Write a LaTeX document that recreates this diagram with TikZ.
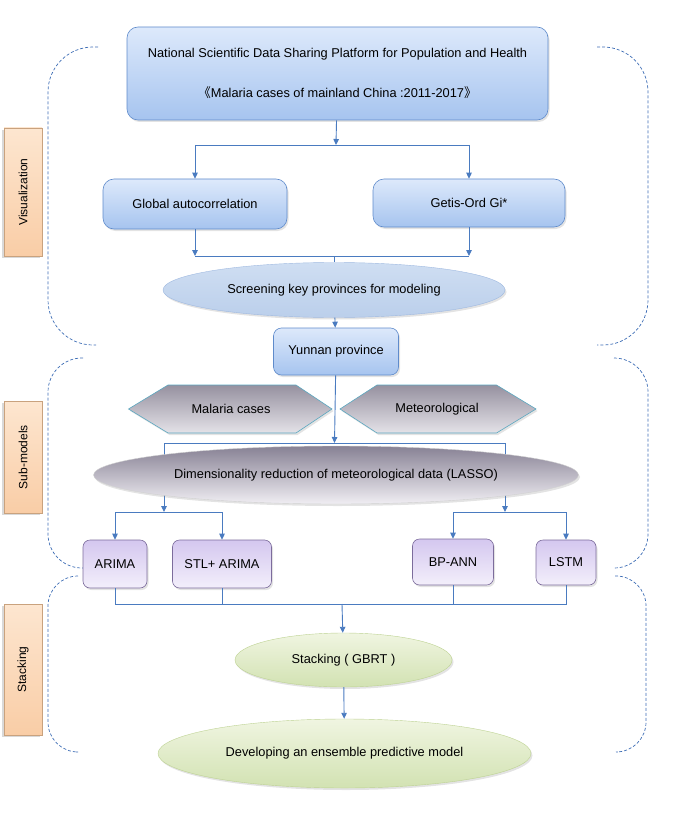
\documentclass[tikz,border=0pt]{standalone}
\usepackage{fontspec}
\setmainfont{Liberation Sans}
\newfontfamily\cjkfont{Noto Sans CJK SC}
\usetikzlibrary{shapes.geometric}
\usetikzlibrary{shadows}
\usetikzlibrary{arrows.meta}
\definecolor{linkblue}{HTML}{4A7BC0}
\definecolor{bracketblue}{HTML}{3D6DB5}
\definecolor{boxline}{HTML}{5F8BCB}
\definecolor{boxtop}{HTML}{DDE9FB}
\definecolor{boxbottom}{HTML}{A6C4EF}
\definecolor{screentop}{HTML}{CFDEF2}
\definecolor{screenbottom}{HTML}{BBCFEB}
\definecolor{hexline}{HTML}{5AA7C0}
\definecolor{hextop}{RGB}{150,145,160}
\definecolor{hexbottom}{RGB}{228,226,232}
\definecolor{lassotop}{RGB}{135,129,148}
\definecolor{lassobottom}{RGB}{240,238,243}
\definecolor{modelline}{HTML}{7C6C9C}
\definecolor{modeltop}{RGB}{212,199,239}
\definecolor{modelbottom}{RGB}{243,239,251}
\definecolor{greenline}{HTML}{BDD292}
\definecolor{greentop}{RGB}{240,245,225}
\definecolor{greenbottom}{RGB}{210,226,178}
\definecolor{peachline}{HTML}{C9A27E}
\definecolor{peachtop}{RGB}{253,230,208}
\definecolor{peachbottom}{RGB}{249,205,166}
\tikzstyle{flow}=[draw=linkblue, line width=0.9pt]
\tikzstyle{flow arrow}=[flow, -{Triangle[width=5.5pt, length=6pt]}]
\tikzstyle{stage bracket}=[draw=bracketblue, line width=0.7pt, dash pattern=on 3pt off 2pt]
\tikzstyle{text node}=[inner sep=0pt, align=center, font=\fontsize{12.8}{15}\selectfont]
\tikzstyle{soft shadow}=[drop shadow={opacity=0.22, shadow xshift=1.5pt, shadow yshift=-2pt}]
\tikzstyle{blue box}=[text node, draw=boxline, semithick, rounded corners=11pt, top color=boxtop, bottom color=boxbottom, soft shadow]
\tikzstyle{blue ellipse}=[text node, ellipse, draw=boxline!60, thin, top color=screentop, bottom color=screenbottom, soft shadow]
\tikzstyle{data hexagon}=[draw=hexline, semithick, top color=hextop, bottom color=hexbottom, soft shadow]
\tikzstyle{grey ellipse}=[text node, ellipse, draw=black!18, thin, top color=lassotop, bottom color=lassobottom, soft shadow]
\tikzstyle{model box}=[text node, draw=modelline, semithick, rounded corners=7pt, top color=modeltop, bottom color=modelbottom, soft shadow]
\tikzstyle{green ellipse}=[text node, ellipse, draw=greenline, thin, top color=greentop, bottom color=greenbottom, soft shadow]
\tikzstyle{stage label}=[text node, rotate=90, draw=peachline, top color=peachtop, bottom color=peachbottom, minimum height=38pt, font=\fontsize{12}{14}\selectfont, drop shadow={opacity=0.3, shadow xshift=-2pt, shadow yshift=-2pt}]

\begin{document}
\begin{tikzpicture}[x=1pt, y=-1pt]
  \useasboundingbox (0, 0) rectangle (683, 821);
  % dashed stage brackets
  \draw[stage bracket, rounded corners=45pt] (98, 47) -- (48, 47) -- (48, 345) -- (96, 345);
  \draw[stage bracket, rounded corners=45pt] (597, 47) -- (648, 47) -- (648, 345) -- (597, 345);
  \draw[stage bracket, rounded corners=34pt] (83, 358) -- (48, 358) -- (48, 568) -- (83, 568);
  \draw[stage bracket, rounded corners=34pt] (614, 358) -- (648, 358) -- (648, 568) -- (614, 568);
  \draw[stage bracket, rounded corners=30pt] (78, 576) -- (48, 576) -- (48, 752) -- (76, 752);
  \draw[stage bracket, rounded corners=30pt] (615, 576) -- (646, 576) -- (646, 752) -- (618, 752);

  \node[stage label, minimum width=128pt] (vis_label) at (23, 192) {Visualization};
  \node[stage label, minimum width=112pt] (sub_label) at (23, 457) {Sub-models};
  \node[stage label, minimum width=131pt] (stack_label) at (23, 669.5) {Stacking};

  % visualization
  \node[blue box, minimum width=421pt, minimum height=93pt] (source) at (337.5, 73.5)
    {National Scientific Data Sharing Platform for Population and Health\\[25pt]
     {\cjkfont 《}Malaria cases of mainland China :2011-2017{\cjkfont 》}};
  \node[blue box, minimum width=184pt, minimum height=50pt] (global) at (195, 204) {Global autocorrelation};
  \node[blue box, minimum width=192pt, minimum height=48pt] (getis) at (469, 203) {Getis-Ord Gi*};
  \node[blue ellipse, minimum width=342pt, minimum height=55pt] (screen) at (334, 290) {Screening key provinces for modeling};
  \coordinate (split_vis) at (336, 145);
  \coordinate (merge_vis) at (334, 256);
  \draw[flow arrow] (source) -- (split_vis);
  \draw[flow] (global |- split_vis) -- (getis |- split_vis);
  \draw[flow arrow] (global |- split_vis) -- (global);
  \draw[flow arrow] (getis |- split_vis) -- (getis);
  \draw[flow arrow] (global) -- (global |- merge_vis);
  \draw[flow arrow] (getis) -- (getis |- merge_vis);
  \draw[flow] (global |- merge_vis) -- (getis |- merge_vis);
  \draw[flow] (merge_vis) -- (screen);

  \node[blue box, rounded corners=8pt, minimum width=125pt, minimum height=47pt] (yunnan) at (336, 351.5) {Yunnan province};
  \draw[flow arrow] (screen) -- (yunnan);

  % sub-models
  \path[data hexagon] (128.5, 409) -- (168, 385) -- (296, 385) -- (332, 409) -- (296, 433) -- (168, 433) -- cycle;
  \path[data hexagon] (340, 409) -- (377, 385) -- (496.5, 385) -- (536, 409) -- (496.5, 433) -- (377, 433) -- cycle;
  \node[text node] (malaria) at (231, 409) {Malaria cases};
  \node[text node] (meteo) at (437, 409) {Meteorological};
  \coordinate (split_lasso) at (334.5, 443);
  \coordinate (lasso_in_left) at (164, 443);
  \coordinate (lasso_in_right) at (505, 443);
  \coordinate (lasso_out_left) at (164, 512);
  \coordinate (lasso_out_right) at (505, 512);
  \draw[flow arrow] (yunnan) -- (split_lasso);
  \draw[flow] (lasso_in_left |- 0, 475) -- (lasso_in_left) -- (lasso_in_right) -- (lasso_in_right |- 0, 475);
  \draw[flow arrow] (lasso_out_left |- 0, 475) -- (lasso_out_left);
  \draw[flow arrow] (lasso_out_right |- 0, 475) -- (lasso_out_right);
  \node[grey ellipse, minimum width=485pt, minimum height=58pt] (lasso) at (336, 475) {Dimensionality reduction of meteorological data (LASSO)};

  \node[model box, minimum width=64pt, minimum height=48pt] (arima) at (115, 564) {ARIMA};
  \node[model box, minimum width=99pt, minimum height=48pt] (stl) at (222, 564) {STL+ ARIMA};
  \node[model box, minimum width=81pt, minimum height=46pt] (bpann) at (453, 562) {BP-ANN};
  \node[model box, minimum width=60pt, minimum height=45pt] (lstm) at (566, 562.5) {LSTM};
  \draw[flow] (arima |- lasso_out_left) -- (stl |- lasso_out_left);
  \draw[flow] (bpann |- lasso_out_right) -- (lstm |- lasso_out_right);
  \foreach \m/\side in {arima/left, stl/left, bpann/right, lstm/right}
    \draw[flow arrow] (\m |- lasso_out_\side) -- (\m);

  % stacking
  \coordinate (merge_models) at (342, 604);
  \draw[flow] (arima) -- (arima |- merge_models) -- (lstm |- merge_models) -- (lstm);
  \draw[flow] (stl) -- (stl |- merge_models);
  \draw[flow] (bpann) -- (bpann |- merge_models);
  \node[green ellipse, minimum width=217pt, minimum height=54pt] (gbrt) at (343.5, 660) {Stacking ( GBRT )};
  \node[green ellipse, minimum width=373pt, minimum height=69pt] (ensemble) at (344.5, 753.5) {Developing an ensemble predictive model};
  \draw[flow arrow] (merge_models) -- (gbrt);
  \draw[flow arrow] (gbrt) -- (ensemble);
\end{tikzpicture}
\end{document}
